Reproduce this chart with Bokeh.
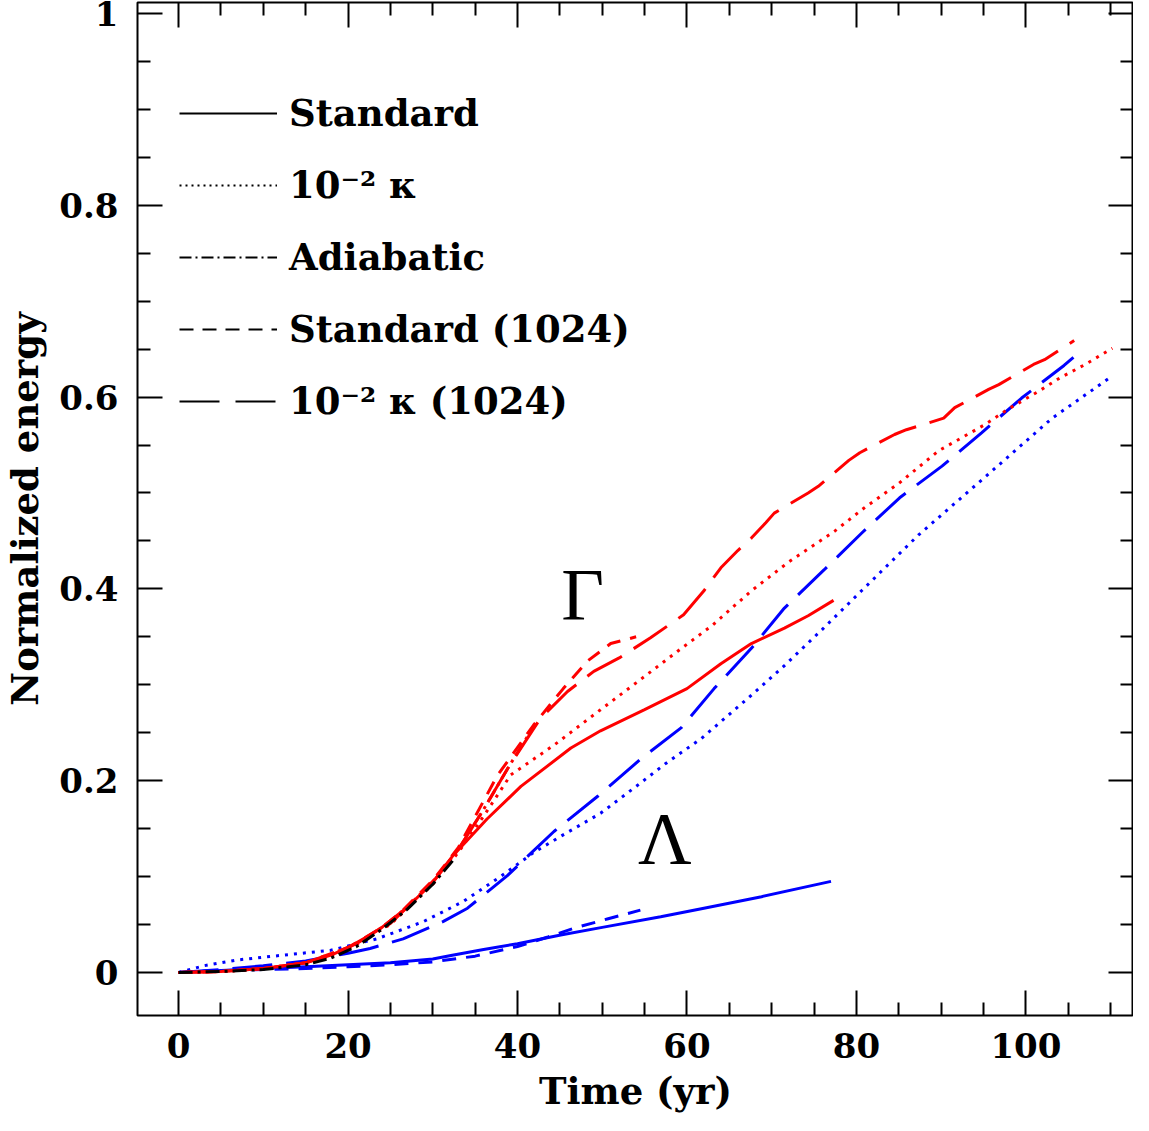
from bokeh.plotting import figure
from bokeh.models import (Range1d, FixedTicker, LinearAxis, Legend, LegendItem)
from bokeh.core.properties import value
from bokeh.embed import file_html
from bokeh.resources import INLINE

# ---------------- data ----------------
# Gamma (red) curves
g_std_x = [0, 5, 10, 15, 18, 21, 24, 27, 30, 32.4, 36.4, 40.4, 46.3, 49.8, 55, 60, 64, 67.6, 71.5, 74.3, 77.3]
g_std_y = [0, 0.001, 0.004, 0.01, 0.018, 0.03, 0.047, 0.068, 0.094, 0.122, 0.16, 0.194, 0.234, 0.252, 0.274, 0.296, 0.322, 0.343, 0.359, 0.372, 0.388]

g_k_x = [0, 5, 10, 15, 20, 25, 30, 33, 36, 39.2, 44.3, 49.8, 54, 58.9, 63, 67.6, 72, 77.4, 81, 85, 89.7, 95.1, 98, 101.5, 104, 107, 110.2]
g_k_y = [0, 0.001, 0.004, 0.01, 0.025, 0.05, 0.092, 0.125, 0.163, 0.206, 0.237, 0.274, 0.302, 0.335, 0.362, 0.398, 0.428, 0.46, 0.485, 0.51, 0.544, 0.571, 0.588, 0.606, 0.62, 0.634, 0.651]

g_ad_x = [0, 5, 10, 15, 18, 21, 24, 27, 30, 33, 36, 39, 42]
g_ad_y = [0, 0.001, 0.004, 0.01, 0.017, 0.029, 0.047, 0.068, 0.095, 0.128, 0.17, 0.215, 0.258]

g_s1024_x = [0, 5, 10, 15, 20, 25, 30, 33, 37.6, 41.9, 45.4, 48.3, 51, 54]
g_s1024_y = [0, 0.001, 0.004, 0.01, 0.026, 0.052, 0.096, 0.13, 0.205, 0.258, 0.296, 0.325, 0.343, 0.35]

g_k1024_x = [0, 5, 10, 15, 20, 25, 30, 33, 36, 39, 42.7, 45.9, 49, 52, 55.7, 59.6, 62, 64, 66, 67.6, 69.3, 70.3, 74.3, 75.5, 79.1,
             80.4, 84.5, 85.9, 90.3, 91.6, 95.6, 96.8, 100.9, 102.2, 105.7]
g_k1024_y = [0, 0.001, 0.004, 0.01, 0.026, 0.051, 0.094, 0.128, 0.17, 0.215, 0.265, 0.293, 0.314, 0.328, 0.349, 0.373, 0.398, 0.422, 0.44, 0.453, 0.469, 0.479, 0.5, 0.507, 0.534,
             0.542, 0.561, 0.566, 0.578, 0.589, 0.608, 0.613, 0.634, 0.639, 0.659]

# Lambda (blue) curves
l_std_x = [0, 5, 10, 15, 20, 25, 30, 32.3, 36, 40, 45.1, 50, 56.9, 62, 68.8, 77]
l_std_y = [0, 0.002, 0.004, 0.006, 0.008, 0.01, 0.014, 0.018, 0.024, 0.03, 0.039, 0.047, 0.058, 0.067, 0.079, 0.095]

l_k_x = [0, 3, 6.9, 12.3, 17.9, 23.4, 28.9, 33.6, 38, 41.9, 45.1, 49.8, 53.7, 57.5, 61.7, 67.2, 71.5, 76, 80.6, 87.3, 95.1, 103.1, 110.2]
l_k_y = [0, 0.007, 0.013, 0.018, 0.023, 0.035, 0.053, 0.074, 0.1, 0.125, 0.142, 0.166, 0.192, 0.218, 0.244, 0.286, 0.32, 0.358, 0.398, 0.456, 0.516, 0.578, 0.622]

l_s1024_x = [0, 5, 10, 15, 20, 25, 30, 35, 40, 43.6, 46.6, 50.7, 54.5]
l_s1024_y = [0, 0.002, 0.003, 0.004, 0.006, 0.008, 0.011, 0.017, 0.027, 0.037, 0.046, 0.056, 0.065]

l_k1024_x = [0, 5, 10, 15, 20, 22.6, 26.5, 31.2, 34.1, 38.8, 44.3, 49.5, 54.6, 59.3, 63.2, 67.6, 71.5, 76.2, 80.6, 85.1, 90.1, 94.8, 99.5, 104.5, 105.7]
l_k1024_y = [0, 0.003, 0.007, 0.012, 0.02, 0.025, 0.035, 0.053, 0.067, 0.101, 0.147, 0.184, 0.223, 0.255, 0.296, 0.338, 0.38, 0.42, 0.458, 0.495, 0.528, 0.563, 0.599, 0.633, 0.642]

# Adiabatic total (black)
ad_x = [0, 5, 10, 15, 18, 21, 24, 27, 30, 32.5]
ad_y = [0, 0.001, 0.003, 0.008, 0.015, 0.027, 0.045, 0.066, 0.092, 0.118]

legend_labels = ["Standard", "10\u207b\u00b2 \u03ba", "Adiabatic", "Standard (1024)", "10\u207b\u00b2 \u03ba (1024)"]
x_ticks = [0, 20, 40, 60, 80, 100]
y_ticks = [0, 0.2, 0.4, 0.6, 0.8, 1.0]
y_tick_labels = {0: "0", 0.2: "0.2", 0.4: "0.4", 0.6: "0.6", 0.8: "0.8", 1.0: "1"}
greek_labels = ["\u0393", "\u039b"]
greek_x = [47.7, 57.4]
greek_y = [0.394, 0.139]

# ---------------- styles ----------------
FONT = "DejaVu Serif"
RED = "#ff0000"
BLUE = "#0000ff"
DOT = "3 6"
DASH = "14 10"
LONG = "40 14"
DASHDOT = "14 5 3 5"
NAN = float("nan")

p = figure(width=1133, height=1115, output_backend="svg", toolbar_location=None,
           x_range=Range1d(-4.85, 112.7), y_range=Range1d(-0.0449, 1.0115),
           min_border_left=131, min_border_right=0, min_border_top=2, min_border_bottom=98)
p.background_fill_color = "white"
p.border_fill_color = "white"
p.outline_line_color = "black"
p.outline_line_width = 2
p.xgrid.visible = False
p.ygrid.visible = False

minor_x = [v for v in range(0, 115, 5) if v not in x_ticks]
minor_y = [round(i * 0.05, 2) for i in range(0, 21) if i % 4 != 0]

def style_axis(ax, show_labels):
    ax.axis_line_color = None
    ax.major_tick_in = 25
    ax.major_tick_out = 0
    ax.minor_tick_in = 13
    ax.minor_tick_out = 0
    ax.major_tick_line_width = 2
    ax.minor_tick_line_width = 2
    ax.major_tick_line_color = "black"
    ax.minor_tick_line_color = "black"
    if show_labels:
        ax.major_label_text_font = FONT
        ax.major_label_text_font_style = "bold"
        ax.major_label_text_font_size = "34px"
        ax.major_label_text_color = "black"
        ax.axis_label_text_font = FONT
        ax.axis_label_text_font_style = "bold"
        ax.axis_label_text_font_size = "37px"
        ax.axis_label_text_color = "black"
    else:
        ax.major_label_text_font_size = "0px"
        ax.major_label_standoff = 0

xt = FixedTicker(ticks=x_ticks, minor_ticks=minor_x)
yt = FixedTicker(ticks=y_ticks, minor_ticks=minor_y)

p.xaxis.ticker = xt
p.yaxis.ticker = yt
p.yaxis.major_label_overrides = y_tick_labels
p.xaxis.axis_label = "Time (yr)"
p.yaxis.axis_label = "Normalized energy"
style_axis(p.xaxis[0], True)
style_axis(p.yaxis[0], True)
p.xaxis.major_label_standoff = 17
p.xaxis.axis_label_standoff = 8
p.yaxis.major_label_standoff = 19
p.yaxis.axis_label_standoff = 9

ax_top = LinearAxis(ticker=FixedTicker(ticks=x_ticks, minor_ticks=minor_x))
ax_right = LinearAxis(ticker=FixedTicker(ticks=y_ticks, minor_ticks=minor_y))
style_axis(ax_top, False)
style_axis(ax_right, False)
p.add_layout(ax_top, "above")
p.add_layout(ax_right, "right")

W = 3
series = [
    (l_k_x, l_k_y, BLUE, DOT),
    (l_k1024_x, l_k1024_y, BLUE, LONG),
    (l_s1024_x, l_s1024_y, BLUE, DASH),
    (l_std_x, l_std_y, BLUE, "solid"),
    (g_k_x, g_k_y, RED, DOT),
    (g_k1024_x, g_k1024_y, RED, LONG),
    (g_s1024_x, g_s1024_y, RED, DASH),
    (g_ad_x, g_ad_y, RED, DASHDOT),
    (g_std_x, g_std_y, RED, "solid"),
    (ad_x, ad_y, "black", DASHDOT),
]
for xs, ys, c, d in series:
    p.line(xs, ys, line_color=c, line_width=W, line_dash=d)

# Greek labels
p.text(x=greek_x, y=greek_y, text=greek_labels, text_font=value("Liberation Serif"),
       text_font_size="74px", text_color="black", text_align="center", text_baseline="alphabetic")

# Legend with black sample lines (renderers hold no visible data)
dashes = ["solid", "2 4", "12 4 2 4", "14 9", "40 16"]
items = []
for lab, d in zip(legend_labels, dashes):
    r = p.line(x=[NAN, NAN], y=[NAN, NAN], line_color="black", line_width=2, line_dash=d)
    items.append(LegendItem(label=lab, renderers=[r]))

leg = Legend(items=items, location=(42, 592), orientation="vertical")
leg.glyph_width = 98
leg.glyph_height = 44
leg.label_height = 44
leg.spacing = 28
leg.padding = 0
leg.margin = 0
leg.label_standoff = 12
leg.border_line_color = None
leg.background_fill_alpha = 0
leg.label_text_font = FONT
leg.label_text_font_style = "bold"
leg.label_text_font_size = "37px"
leg.label_text_color = "black"
p.add_layout(leg, "center")

open("out.html", "w").write(file_html(p, INLINE))
